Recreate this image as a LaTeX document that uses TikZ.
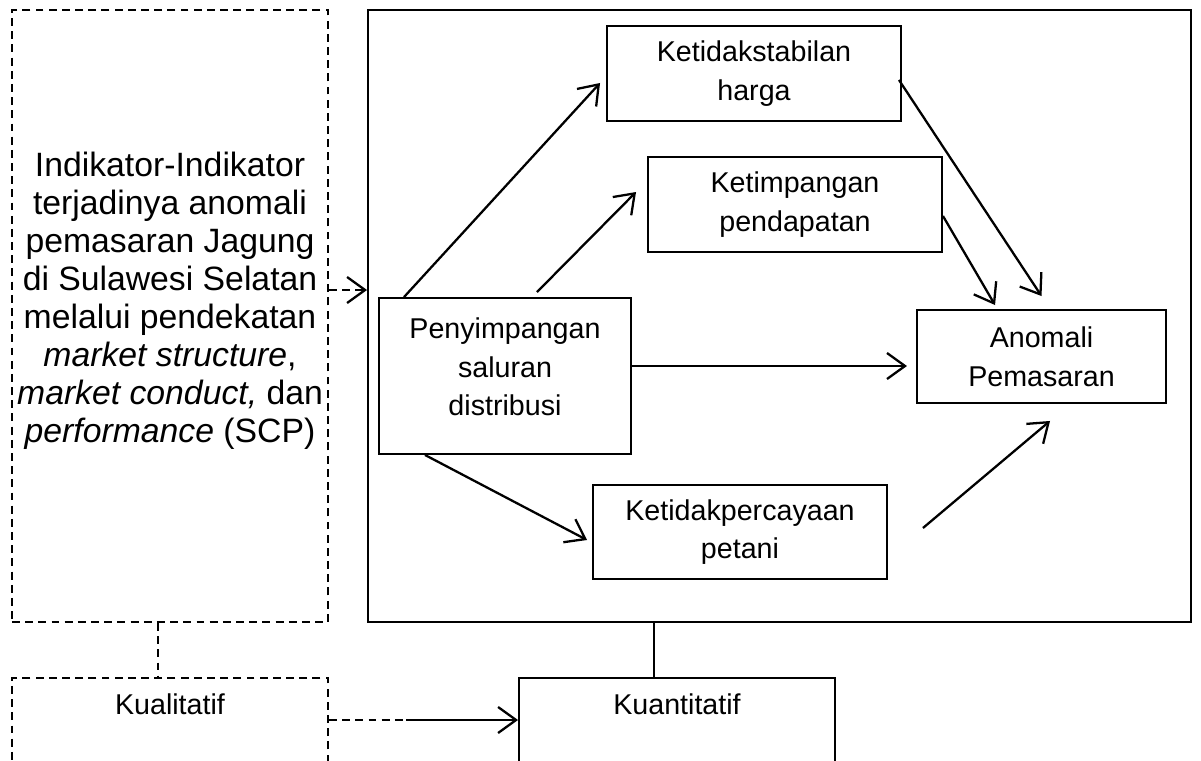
\documentclass[tikz,border=0pt]{standalone}
\usepackage{fontspec}
\setmainfont{Liberation Sans}
\usetikzlibrary{arrows.meta}

\begin{document}
\begin{tikzpicture}[>={Straight Barb[length=3.6mm,width=5.2mm]}, line width=1.1pt,
  font=\fontsize{16.3}{22}\selectfont,
  box/.style={draw, align=center, inner sep=0pt},
  dline/.style={dash pattern=on 4.5pt off 3pt},
  dbox/.style={box, dline},
  arr/.style={->, line width=1.3pt}]
  \useasboundingbox (0,0) rectangle (24.02,15.2);
  \clip (0,0) rectangle (24.02,15.2);

  % left side
  \node[dbox, minimum width=6.32cm, minimum height=12.24cm,
    font=\fontsize{19.2}{21.6}\selectfont] (ind) at (3.40,8.88)
    {Indikator-Indikator\\ terjadinya anomali\\ pemasaran Jagung\\ di Sulawesi Selatan\\
     melalui pendekatan\\ \textit{market structure},\\ \textit{market conduct,} dan\\
     \textit{performance} (SCP)\\};
  \node[dbox, anchor=north, minimum width=6.32cm, text height=4.1mm, text depth=3cm,
    inner ysep=3.3mm] (kual) at (3.40,1.66) {Kualitatif};

  % right side frame and boxes
  \node[box, minimum width=16.46cm, minimum height=12.24cm] (frame) at (15.59,8.88) {};
  \node[box, minimum width=5.88cm, minimum height=1.9cm] (stab) at (15.08,13.73)
    {Ketidakstabilan\\ harga};
  \node[box, minimum width=5.88cm, minimum height=1.9cm] (timp) at (15.90,11.11)
    {Ketimpangan\\ pendapatan};
  \node[box, minimum width=5.04cm, minimum height=3.12cm] (peny) at (10.10,7.68)
    {Penyimpangan\\ saluran\\ distribusi\\[-4mm]};
  \node[box, minimum width=4.98cm, minimum height=1.86cm] (anom) at (20.83,8.07)
    {Anomali\\ Pemasaran};
  \node[box, minimum width=5.88cm, minimum height=1.88cm] (perc) at (14.80,4.56)
    {Ketidakpercayaan\\ petani};
  \node[box, anchor=north, minimum width=6.32cm, text height=4.1mm, text depth=3cm,
    inner ysep=3.3mm] (kuan) at (13.54,1.66) {Kuantitatif};

  % helper levels
  \coordinate (lvl) at (0,9.4);
  \coordinate (dl) at (3.16,0);
  \coordinate (kq) at (13.08,0);
  \coordinate (mid) at (8.12,0.8);

  % connectors
  \draw[arr, dline] (ind.east |- lvl) -- (frame.west |- lvl);
  \draw[dline] (ind.south -| dl) -- (kual.north -| dl);
  \draw (frame.south -| kq) -- (kuan.north -| kq);
  \draw[dline] (kual.east |- mid) -- (mid);
  \draw[arr] (mid) -- (kuan.west |- mid);

  \draw[arr] ([xshift=5.2mm]peny.north west) -- ([xshift=-1.2mm,yshift=-1.9mm]stab.west);
  \draw[arr] ([xshift=6.4mm,yshift=1mm]peny.north) -- ([xshift=-2.2mm,yshift=2.5mm]timp.west);
  \draw[arr] ([yshift=2mm]peny.east) -- ++(5.5,0);
  \draw[arr] ([xshift=-16mm]peny.south) -- ([xshift=-1mm,yshift=-1.6mm]perc.west);
  \draw[arr] ([xshift=-0.6mm,yshift=-1.3mm]stab.east) -- ([yshift=2.6mm]anom.north);
  \draw[arr] ([yshift=-2.3mm]timp.east) -- ([xshift=15.8mm,yshift=0.8mm]anom.north west);
  \draw[arr] ([xshift=7mm,yshift=0.8mm]perc.east) -- ([xshift=1.7mm,yshift=-3.4mm]anom.south);
\end{tikzpicture}
\end{document}
